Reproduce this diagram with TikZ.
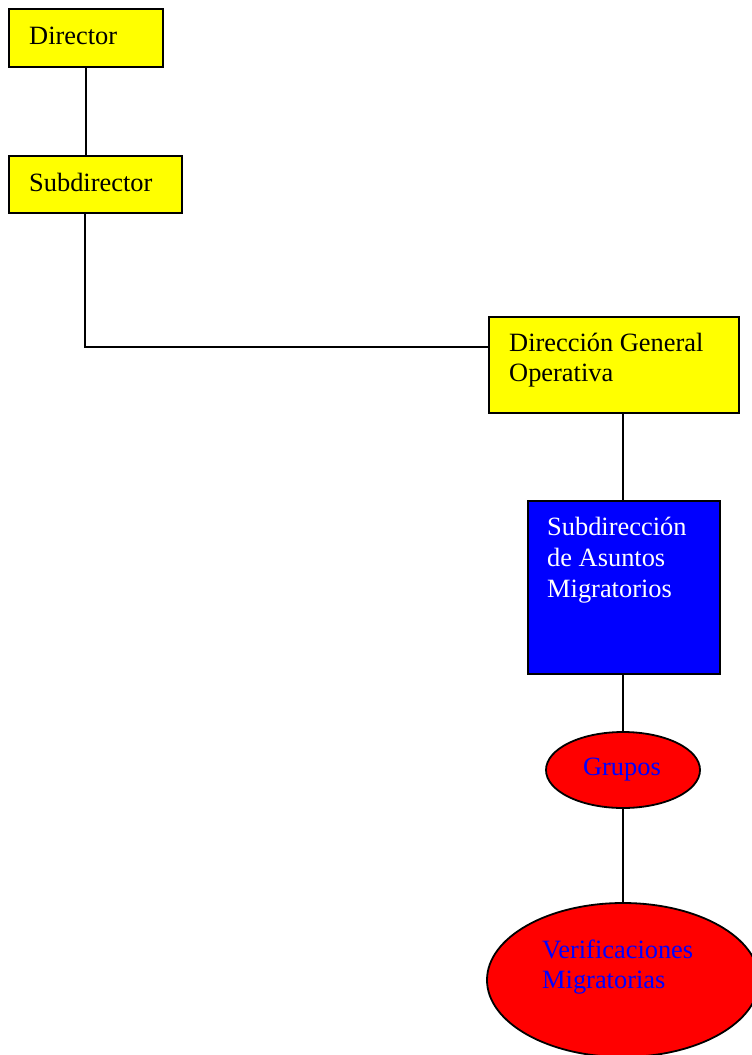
\documentclass[tikz,border=0pt]{standalone}
\usepackage{fontspec}
\setmainfont{Liberation Serif}
\usetikzlibrary{shapes.geometric}
\definecolor{ybox}{HTML}{FFFF00}
\definecolor{bbox}{HTML}{0000FF}
\definecolor{rbox}{HTML}{FF0000}
\begin{document}
\begin{tikzpicture}[x=1pt,y=-1pt,
  box/.style={draw=black,line width=1.8pt,rectangle,inner sep=0pt,anchor=north west},
  oval/.style={draw=black,line width=1.8pt,ellipse,inner sep=0pt},
  txt/.style={anchor=base west,inner sep=0pt,font=\fontsize{26.4}{30.4}\selectfont},
  conn/.style={line width=1.8pt}]
\useasboundingbox (0,0) rectangle (752,1055);
\clip (0,0) rectangle (752,1055);
% boxes
\node[box,fill=ybox,minimum width=154pt,minimum height=58pt] (dir) at (8,8) {};
\node[box,fill=ybox,minimum width=173pt,minimum height=57pt] (sub) at (8,155) {};
\node[box,fill=ybox,minimum width=250pt,minimum height=96pt] (dgo) at (488,316) {};
\node[box,fill=bbox,minimum width=192pt,minimum height=173pt] (sam) at (527,500) {};
\node[oval,fill=rbox,minimum width=154pt,minimum height=76pt] (gru) at (623,770) {};
\node[oval,fill=rbox,minimum width=272pt,minimum height=154pt] (ver) at (623,980) {};
% connectors
\coordinate (elbow) at (85,347);
\coordinate (vline) at (623,0);
\draw[conn] (dir.south) -- (dir.south |- sub.north);
\draw[conn] (elbow |- sub.south) -- (elbow) -- (elbow -| dgo.west);
\draw[conn] (vline |- sam.north) -- (vline |- dgo.south);
\draw[conn] (vline |- sam.south) -- (vline |- gru.north);
\draw[conn] (vline |- gru.south) -- (vline |- ver.north);
% texts
\node[txt] (tdir) at (29,44) {Director};
\node[txt] (tsub) at (29,191) {Subdirector};
\node[txt] (tdgo1) at (509,351) {Dirección General};
\node[txt] (tdgo2) at (509,381) {Operativa};
\node[txt,text=white] (tsam1) at (547,535) {Subdirección};
\node[txt,text=white] (tsam2) at (547,566) {de Asuntos};
\node[txt,text=white] (tsam3) at (547,597) {Migratorios};
\node[txt,text=bbox,anchor=base] (tgru) at (622,775) {Grupos};
\node[txt,text=bbox] (tver1) at (542,958) {Verificaciones};
\node[txt,text=bbox] (tver2) at (542,988) {Migratorias};
\end{tikzpicture}
\end{document}
